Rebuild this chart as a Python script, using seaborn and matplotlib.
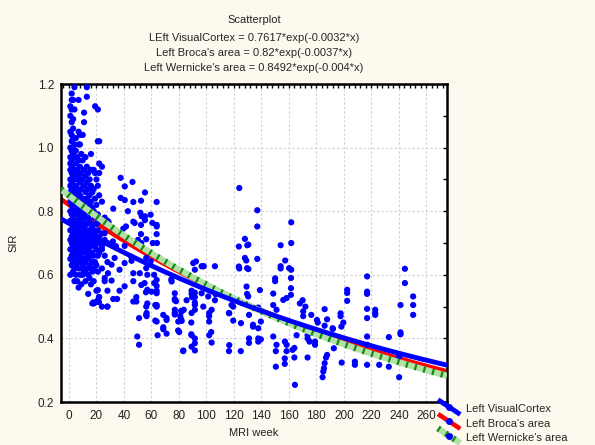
import numpy as np
import pandas as pd
import matplotlib
matplotlib.use('Agg')
import matplotlib.pyplot as plt
import seaborn as sns
from matplotlib.lines import Line2D
from matplotlib.ticker import MultipleLocator

# ---------------------------------------------------------------------------
# data
# ---------------------------------------------------------------------------
# dense early weeks: one list of SIR values per week
early_weeks = [1, 2, 3, 4, 5, 6, 7, 8, 9, 10, 11, 12, 13, 14, 15, 16, 17, 18,
               19, 20, 21, 22, 24, 26, 28]
early_sir = [
    [1.13, 1.10, 1.05, 1.00, 0.97, 0.95, 0.93, 0.90, 0.88, 0.86, 0.83, 0.80, 0.77, 0.74, 0.71, 0.68, 0.65, 0.60],
    [1.17, 1.15, 1.12, 1.08, 1.04, 1.02, 0.99, 0.96, 0.94, 0.92, 0.89, 0.87, 0.85, 0.82, 0.79, 0.76, 0.74, 0.72, 0.70, 0.68, 0.66, 0.63],
    [1.15, 1.09, 1.06, 1.03, 1.00, 0.98, 0.95, 0.91, 0.88, 0.84, 0.81, 0.78, 0.75, 0.73, 0.71, 0.69, 0.67, 0.64, 0.61],
    [1.19, 1.12, 1.01, 0.97, 0.93, 0.90, 0.86, 0.83, 0.80, 0.77, 0.75, 0.72, 0.70, 0.68, 0.65, 0.62, 0.58],
    [1.03, 0.99, 0.95, 0.92, 0.88, 0.85, 0.82, 0.79, 0.76, 0.74, 0.71, 0.69, 0.66, 0.63, 0.60],
    [0.97, 0.93, 0.90, 0.87, 0.84, 0.80, 0.77, 0.73, 0.71, 0.68, 0.66, 0.64, 0.58],
    [1.15, 1.05, 1.01, 0.96, 0.91, 0.86, 0.83, 0.79, 0.76, 0.74, 0.72, 0.70, 0.67, 0.62, 0.56],
    [1.04, 1.01, 0.94, 0.89, 0.85, 0.81, 0.78, 0.75, 0.73, 0.71, 0.69, 0.66, 0.64, 0.60],
    [0.98, 0.92, 0.87, 0.82, 0.79, 0.76, 0.74, 0.70, 0.68, 0.65, 0.62, 0.57],
    [1.04, 0.96, 0.90, 0.84, 0.80, 0.77, 0.74, 0.72, 0.69, 0.67, 0.63, 0.60],
    [1.11, 1.08, 0.93, 0.88, 0.83, 0.79, 0.75, 0.71, 0.68, 0.65, 0.61],
    [0.97, 0.91, 0.86, 0.81, 0.78, 0.74, 0.70, 0.67, 0.64, 0.61, 0.58],
    [1.19, 1.16, 0.94, 0.89, 0.84, 0.80, 0.76, 0.72, 0.69, 0.66, 0.62],
    [0.92, 0.87, 0.83, 0.78, 0.74, 0.71, 0.68, 0.65, 0.60, 0.54],
    [0.90, 0.85, 0.82, 0.77, 0.73, 0.70, 0.67, 0.63, 0.59],
    [0.98, 0.93, 0.88, 0.83, 0.76, 0.72, 0.69, 0.66, 0.62, 0.57],
    [0.86, 0.81, 0.75, 0.71, 0.67, 0.64, 0.61, 0.51],
    [0.93, 0.87, 0.80, 0.74, 0.70, 0.66, 0.62, 0.58, 0.51],
    [1.13, 0.92, 0.84, 0.78, 0.73, 0.69, 0.64],
    [0.90, 0.82, 0.76, 0.72, 0.68, 0.63, 0.55],
    [1.12, 1.02, 0.88, 0.79, 0.74, 0.70, 0.66, 0.61, 0.52],
    [1.02, 0.95, 0.92, 0.85, 0.77, 0.72, 0.67, 0.53],
    [0.94, 0.83, 0.73, 0.68, 0.62, 0.50],
    [0.78, 0.71, 0.66, 0.58],
    [0.77, 0.70, 0.64, 0.55, 0.50],
]

# sparse later weeks: one point per entry
late_week = [
    37.6, 46.2, 40.6, 55.3, 37.6, 40.6, 46.8, 52.4, 63.8, 32.2, 42.9, 51.9, 52.9, 55.3,
    55.3, 46.8, 63.8, 63.8, 52.4, 52.4, 41.5, 39.5, 59.4, 60.7, 28.8, 26.0, 47.8, 63.8,
    21.0, 24.0, 32.0, 34.2, 40.5, 50.2, 52.6, 56.2, 61.0, 64.0, 56.2, 59.4, 56.2, 51.5,
    57.0, 62.0, 52.6, 57.0, 62.0, 45.3, 40.5, 36.8, 33.2, 31.0, 28.4, 26.0, 31.0, 36.8,
    40.5, 21.0, 45.5, 46.8, 46.8, 55.0, 56.0, 63.8, 63.8, 63.8, 60.1, 63.8,
    17.7, 19.2, 21.8, 21.8, 27.9, 32.2, 35.0, 46.8, 49.0, 49.0, 49.7, 51.0, 51.0, 56.5,
    56.5, 56.2, 56.2, 57.0, 62.8, 62.8, 63.8, 63.8, 63.8, 64.5,
    68.6, 68.6, 71.0, 71.0, 68.6, 71.0, 74.4, 74.7, 77.0, 77.0, 77.0, 77.0, 77.0, 77.0,
    77.9, 79.4, 79.5, 80.2, 81.6, 81.6, 82.0, 81.0, 82.0, 83.5, 83.2, 85.6, 83.1, 89.2,
    89.2, 89.5, 89.2, 89.0, 89.2, 89.2, 89.0, 91.6, 91.6, 91.6, 91.6, 91.6, 91.6, 91.6,
    91.6, 90.4, 92.4, 91.6, 97.7, 96.5, 98.0, 97.7, 96.5, 101.3, 103.8, 102.0, 102.0,
    102.0, 102.0, 103.8, 103.5, 106.2, 106.7, 106.2,
    116.6, 116.4, 116.6, 116.4, 118.3, 119.5, 119.5, 123.9, 123.6, 123.9, 123.6, 125.1,
    125.0, 128.0, 128.0, 129.7, 130.5, 129.0, 129.6, 130.5, 129.2, 129.6, 130.4, 131.0,
    131.0, 131.0, 133.9, 133.9, 137.0, 137.0, 137.0, 138.9, 137.7, 137.7, 137.7, 137.7,
    139.6, 139.6, 148.6, 148.6, 148.6, 150.0, 150.0, 151.0, 151.0, 150.5, 150.5, 154.0,
    154.0, 154.0, 155.9, 157.3, 157.1, 158.3, 158.3, 158.3, 157.0, 157.0, 160.2, 161.7,
    161.7, 161.5, 161.5, 161.5, 162.7, 161.7, 164.0, 164.0, 164.4, 165.6,
    168.0, 170.0, 172.0, 170.4, 170.4, 173.6, 173.6, 173.6, 176.3, 175.0, 178.9, 179.0,
    179.0, 180.4, 181.0, 184.5, 185.0, 185.5, 186.0, 186.0, 186.0, 187.8, 187.8, 187.0,
    191.8, 192.0, 192.7, 197.6, 197.6, 199.6, 198.2, 198.4, 202.4, 202.4, 202.4, 208.0,
    208.0, 216.9, 216.9, 216.9, 216.9, 216.9, 216.9, 216.9, 216.9, 222.8, 222.8, 222.8,
    225.7, 232.7, 232.7, 240.2, 240.2, 241.2, 241.2, 241.2, 244.4, 244.4, 250.4, 250.4,
    250.4,
]
late_sir = [
    0.905, 0.892, 0.878, 0.859, 0.842, 0.835, 0.829, 0.833, 0.829, 0.808, 0.800, 0.795, 0.784, 0.784,
    0.772, 0.767, 0.757, 0.728, 0.757, 0.728, 0.752, 0.745, 0.789, 0.763, 0.766, 0.731, 0.763, 0.752,
    0.702, 0.690, 0.705, 0.690, 0.691, 0.710, 0.700, 0.712, 0.700, 0.700, 0.653, 0.642, 0.621, 0.605,
    0.600, 0.600, 0.568, 0.553, 0.574, 0.657, 0.637, 0.616, 0.653, 0.632, 0.605, 0.590, 0.582, 0.550,
    0.564, 0.552, 0.644, 0.605, 0.580, 0.574, 0.545, 0.584, 0.565, 0.550, 0.547, 0.542,
    0.513, 0.513, 0.530, 0.514, 0.500, 0.524, 0.524, 0.516, 0.516, 0.530, 0.406, 0.380, 0.464, 0.480,
    0.470, 0.500, 0.474, 0.510, 0.505, 0.456, 0.505, 0.500, 0.453, 0.410,
    0.474, 0.435, 0.464, 0.415, 0.429, 0.458, 0.585, 0.579, 0.542, 0.520, 0.490, 0.475, 0.524, 0.480,
    0.517, 0.425, 0.453, 0.420, 0.486, 0.460, 0.485, 0.470, 0.455, 0.490, 0.362, 0.520, 0.360, 0.550,
    0.540, 0.530, 0.480, 0.450, 0.410, 0.374, 0.413, 0.544, 0.513, 0.505, 0.400, 0.385, 0.362, 0.530,
    0.490, 0.637, 0.642, 0.616, 0.627, 0.627, 0.627, 0.500, 0.542, 0.532, 0.490, 0.480, 0.470,
    0.453, 0.410, 0.387, 0.420, 0.627, 0.539, 0.520,
    0.479, 0.480, 0.379, 0.360, 0.505, 0.500, 0.456, 0.873, 0.689, 0.620, 0.626, 0.448,
    0.360, 0.713, 0.653, 0.693, 0.695, 0.645, 0.621, 0.618, 0.563, 0.540, 0.532, 0.474,
    0.386, 0.400, 0.437, 0.443, 0.803, 0.752, 0.650, 0.552, 0.497, 0.432, 0.400, 0.390,
    0.453, 0.397, 0.541, 0.505, 0.406, 0.589, 0.580, 0.490, 0.380, 0.360, 0.311, 0.693,
    0.627, 0.620, 0.521, 0.645, 0.390, 0.527, 0.380, 0.360, 0.337, 0.320, 0.621, 0.765,
    0.700, 0.590, 0.558, 0.537, 0.364, 0.616, 0.340, 0.370, 0.254, 0.410,
    0.510, 0.520, 0.500, 0.485, 0.470, 0.410, 0.400, 0.340, 0.474, 0.390, 0.416, 0.390,
    0.380, 0.458, 0.450, 0.278, 0.296, 0.306, 0.322, 0.492, 0.440, 0.460, 0.348, 0.340,
    0.432, 0.430, 0.369, 0.479, 0.470, 0.450, 0.437, 0.324, 0.553, 0.543, 0.518, 0.327,
    0.317, 0.595, 0.547, 0.540, 0.493, 0.464, 0.406, 0.380, 0.317, 0.490, 0.474, 0.480,
    0.317, 0.404, 0.311, 0.343, 0.278, 0.505, 0.419, 0.413, 0.619, 0.574, 0.532, 0.505,
    0.474,
]

# exponential fits printed in the title: y = a * exp(b * x)
fit_names = ['Left VisualCortex', "Left Broca's area", "Left Wernicke's area"]
fit_a = [0.7617, 0.82, 0.8492]
fit_b = [-0.0032, -0.0037, -0.004]
title_lines = ['LEft VisualCortex = 0.7617*exp(-0.0032*x)',
               "Left Broca's area = 0.82*exp(-0.0037*x)",
               "Left Wernicke's area = 0.8492*exp(-0.004*x)"]

# ---------------------------------------------------------------------------
# build frames
# ---------------------------------------------------------------------------
rows = [(w, s) for w, col in zip(early_weeks, early_sir) for s in col]
rows += list(zip(late_week, late_sir))
df = pd.DataFrame(rows, columns=['MRI week', 'SIR'])

xgrid = np.linspace(-6, 275, 300)
fits = pd.DataFrame({'x': xgrid})
for name, a, b in zip(fit_names, fit_a, fit_b):
    fits[name] = a * np.exp(b * xgrid)

# ---------------------------------------------------------------------------
# plot
# ---------------------------------------------------------------------------
sns.set_style('white')
plt.rcParams['font.family'] = ['Liberation Sans', 'DejaVu Sans']

bg = '#fdf9ee'
fig = plt.figure(figsize=(5.95, 4.45), dpi=100, facecolor=bg)
ax = fig.add_axes([0.1025, 0.0966, 0.6487, 0.7146])
ax.set_facecolor('white')

blue = '#0000ff'
red = '#ff0000'
green_light = '#b3e0a6'
green_dark = '#138a13'

sns.lineplot(data=fits, x='x', y=fit_names[1], ax=ax, color=red, lw=3.3,
             zorder=2, solid_capstyle='butt')
sns.scatterplot(data=df, x='MRI week', y='SIR', ax=ax, color=blue, s=20,
                edgecolor='none', zorder=3)
sns.lineplot(data=fits, x='x', y=fit_names[2], ax=ax, color=green_light, lw=4.5,
             zorder=4, solid_capstyle='butt')
sns.lineplot(data=fits, x='x', y=fit_names[2], ax=ax, color=green_dark, lw=4.5,
             zorder=4, dashes=False)
ax.lines[-1].set_dashes((0.35, 1.1))
ax.lines[-1].set_dash_capstyle('butt')
sns.lineplot(data=fits, x='x', y=fit_names[0], ax=ax, color=blue, lw=3.5,
             zorder=5, solid_capstyle='butt')

ax.set_xlim(-5.8, 275)
ax.set_ylim(0.2, 1.2)
ax.xaxis.set_major_locator(MultipleLocator(20))
ax.xaxis.set_minor_locator(MultipleLocator(4))
ax.yaxis.set_major_locator(MultipleLocator(0.2))
ax.yaxis.set_minor_locator(MultipleLocator(0.1))
ax.set_xticks(np.arange(0, 261, 20))
ax.tick_params(which='both', direction='in', top=True, right=True, color='black',
               labelsize=8.5, labelcolor='#222222', length=3, width=1)
ax.tick_params(axis='x', which='major', pad=6)
ax.tick_params(axis='y', which='major', pad=5)
ax.yaxis.set_major_formatter(matplotlib.ticker.FormatStrFormatter('%.1f'))
ax.grid(True, which='major', color='#d0d0d0', linestyle=(0, (2, 2)), lw=0.8)
for sp in ax.spines.values():
    sp.set_color('black')
    sp.set_linewidth(1.8)

ax.set_xlabel('MRI week', fontsize=8, color='#222222', labelpad=4)
ax.set_ylabel('SIR', fontsize=8, color='#222222', labelpad=14)

cx = 0.1025 + 0.6487 / 2
fig.text(cx, 1 - 20 / 445, 'Scatterplot', ha='center', va='center', fontsize=8)
for i, t in enumerate(title_lines):
    fig.text(cx, 1 - (38 + 15 * i) / 445, t, ha='center', va='center', fontsize=8)


# legend with slanted line samples
class SlantHandler:
    def legend_artist(self, legend, orig_handle, fontsize, handlebox):
        x0, y0 = handlebox.xdescent, handlebox.ydescent
        w, h = handlebox.width, handlebox.height
        tr = handlebox.get_transform()
        for ln in orig_handle:
            art = Line2D([x0, x0 + w], [y0 + h + 2, y0 - 2], color=ln.get_color(),
                         lw=ln.get_linewidth(), transform=tr, solid_capstyle='butt')
            if ln.get_linestyle() == '--':
                art.set_dashes((0.35, 1.1))
                art.set_dash_capstyle('butt')
            handlebox.add_artist(art)
        dot = Line2D([x0 + w / 2], [y0 + h / 2], marker='o', ms=4, color=blue,
                     ls='none', transform=tr)
        handlebox.add_artist(dot)
        return dot


handles = [
    (Line2D([], [], color=blue, lw=3.5),),
    (Line2D([], [], color=red, lw=3.3),),
    (Line2D([], [], color=green_light, lw=4.5),
     Line2D([], [], color=green_dark, lw=4.5, ls='--')),
]
fig.legend(handles=handles, labels=fit_names, handler_map={tuple: SlantHandler()},
           loc='upper left', bbox_to_anchor=(438 / 595, 1 - 404 / 445),
           frameon=False, fontsize=8, handlelength=2.0, handleheight=0.9,
           handletextpad=0.5, labelspacing=0.35, borderaxespad=0, borderpad=0)

fig.savefig('out.png', dpi=100, facecolor=bg)
